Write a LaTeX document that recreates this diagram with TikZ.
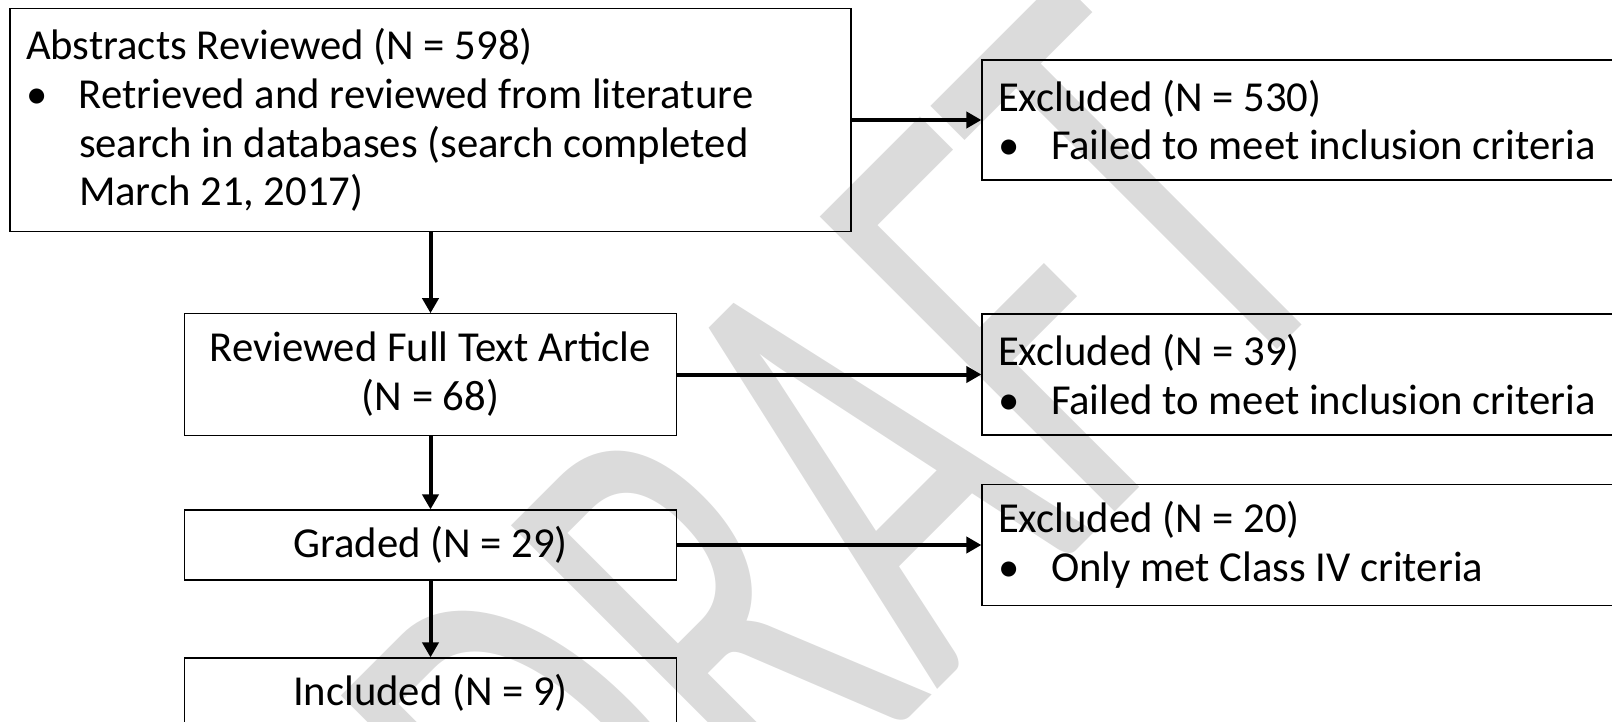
\documentclass[tikz,border=0pt]{standalone}
\usepackage{fontspec}
\setmainfont{Carlito}
\usetikzlibrary{arrows.meta}
\newcommand{\bulmark}{\makebox[26.5pt][l]{\textbullet}}
\newcommand{\bulgap}{\hspace*{26.5pt}}
\tikzset{
    flowbox/.style={draw, line width=0.6pt, inner xsep=8pt, inner ysep=0pt,
        font=\fontsize{21.35}{24.4}\selectfont,
        execute at begin node={\spaceskip=0pt\xspaceskip=0pt}},
    listbox/.style={flowbox, align=left},
    midbox/.style={flowbox, align=center, minimum width=245.75pt},
    link/.style={->, line width=2pt},
    watermark/.style={text=black!14, font=\fontsize{325}{325}\selectfont,
        transform shape, inner sep=0pt, anchor=base west}
}
\begin{document}
\begin{tikzpicture}[x=0.5pt, y=-0.5pt, >={Triangle[width=8pt,length=7.5pt]}]
    \path[use as bounding box, clip] (0,0) rectangle (1612,722);
    % Watermark
    \begin{scope}[shift={(617,1010)}, rotate=45, xscale=0.6]
        \node[watermark] (draft) at (0,0) {DRAFT};
    \end{scope}
    % Main column
    \node[listbox, text width=404.5pt, minimum height=111.5pt] (abstracts) at (430.5,120) {Abstracts Reviewed (N = 598)\\
        \bulmark Retrieved and reviewed from literature\\
        \bulgap search in databases (search completed\\
        \bulgap March 21, 2017)};
    \node[midbox, minimum height=60.7pt] (fulltext) at (430.5,374.5) {Reviewed Full Text Article\\(N = 68)};
    \node[midbox, minimum height=35pt] (graded) at (430.5,545) {Graded (N = 29)};
    \node[midbox, minimum height=35pt] (included) at (430.5,693) {Included (N = 9)};
    % Excluded column
    \node[listbox, text width=318pt, minimum height=60pt] (excl530) at (1316,120) {Excluded (N = 530)\\
        \bulmark Failed to meet inclusion criteria};
    \node[listbox, text width=318pt, minimum height=60.5pt] (excl39) at (1316,374.5) {Excluded (N = 39)\\
        \bulmark Failed to meet inclusion criteria};
    \node[listbox, text width=318pt, minimum height=60.5pt] (excl20) at (1316,545) {Excluded (N = 20)\\
        \bulmark Only met Class IV criteria};
    % Arrows
    \draw[link] (abstracts) -- (fulltext);
    \draw[link] (fulltext) -- (graded);
    \draw[link] (graded) -- (included);
    \draw[link] (abstracts) -- (excl530);
    \draw[link] (fulltext) -- (excl39);
    \draw[link] (graded) -- (excl20);
\end{tikzpicture}
\end{document}
